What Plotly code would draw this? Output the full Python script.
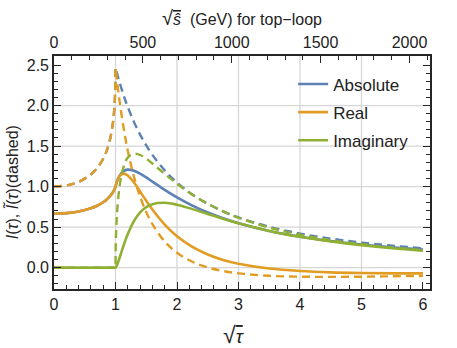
import plotly.graph_objects as go

# ---- data ----
x_sqrt_tau = [0, 0.2, 0.4, 0.6, 0.7, 0.8, 0.85, 0.9, 0.95, 0.98, 0.995, 0.999, 1.0,
              1.001, 1.003, 1.01, 1.02, 1.03, 1.06, 1.1, 1.15, 1.2, 1.3, 1.4, 1.5,
              1.6, 1.8, 2.0, 2.25, 2.5, 2.75, 3.0, 3.5, 4.0, 4.5, 5.0, 5.5, 6.0]

# I(tau) (solid)
abs_I = [0.667, 0.673, 0.693, 0.733, 0.764, 0.807, 0.835, 0.872, 0.920, 0.961, 0.988, 0.997, 1.000,
         1.003, 1.009, 1.028, 1.052, 1.074, 1.125, 1.169, 1.199, 1.209, 1.196, 1.160, 1.113,
         1.062, 0.960, 0.867, 0.766, 0.681, 0.609, 0.549, 0.453, 0.382, 0.328, 0.285, 0.250, 0.222]
re_I = [0.667, 0.673, 0.693, 0.733, 0.764, 0.807, 0.835, 0.872, 0.920, 0.961, 0.988, 0.997, 1.000,
        1.003, 1.009, 1.028, 1.052, 1.073, 1.120, 1.152, 1.157, 1.136, 1.050, 0.939, 0.825,
        0.717, 0.531, 0.387, 0.255, 0.162, 0.095, 0.048, -0.011, -0.042, -0.059, -0.067, -0.071, -0.071]
im_I = [0, 0, 0, 0, 0, 0, 0, 0, 0, 0, 0, 0, 0,
        0.0003, 0.0014, 0.0086, 0.0234, 0.0415, 0.106, 0.200, 0.313, 0.415, 0.574, 0.681, 0.747,
        0.783, 0.800, 0.776, 0.722, 0.662, 0.602, 0.547, 0.453, 0.380, 0.322, 0.277, 0.240, 0.210]

# I~(tau) (dashed)
abs_It = [1.000, 1.014, 1.058, 1.150, 1.227, 1.344, 1.429, 1.548, 1.740, 1.956, 2.185, 2.334, 2.467,
          2.464, 2.459, 2.438, 2.410, 2.382, 2.302, 2.202, 2.087, 1.982, 1.799, 1.642, 1.508,
          1.392, 1.201, 1.050, 0.903, 0.788, 0.695, 0.619, 0.504, 0.420, 0.358, 0.309, 0.270, 0.239]
re_It = [1.000, 1.014, 1.058, 1.150, 1.227, 1.344, 1.429, 1.548, 1.740, 1.956, 2.185, 2.334, 2.467,
         2.460, 2.447, 2.399, 2.333, 2.269, 2.090, 1.877, 1.644, 1.444, 1.121, 0.875, 0.685,
         0.536, 0.322, 0.183, 0.072, 0.002, -0.042, -0.071, -0.101, -0.112, -0.114, -0.112, -0.107, -0.102]
im_It = [0, 0, 0, 0, 0, 0, 0, 0, 0, 0, 0, 0, 0,
         0.140, 0.242, 0.435, 0.603, 0.724, 0.964, 1.152, 1.285, 1.358, 1.406, 1.390, 1.344,
         1.285, 1.157, 1.034, 0.900, 0.788, 0.694, 0.615, 0.494, 0.405, 0.339, 0.288, 0.248, 0.216]

series_names = ["Absolute", "Real", "Imaginary"]
colors = ["#5E81B5", "#E19C24", "#8FB032"]

m_top = 173.0                      # GeV, top-loop scale: sqrt(s) = 2 m_t sqrt(tau)
top_ticks = [0, 500, 1000, 1500, 2000]
bottom_ticks = [0, 1, 2, 3, 4, 5, 6]
y_ticks = [0, 0.5, 1.0, 1.5, 2.0, 2.5]
grid_x = [1, 2, 3, 4, 5]
grid_y = [0, 0.5, 1.0, 1.5, 2.0]

x_range = [0, 6.114]
y_range = [-0.264, 2.612]

FONT = "Liberation Sans, Arial, sans-serif"
TXT = "#222222"

fig = go.Figure()

solid = [abs_I, re_I, im_I]
dashed = [abs_It, re_It, im_It]

for name, col, ys in zip(series_names, colors, solid):
    fig.add_trace(go.Scatter(x=x_sqrt_tau, y=ys, mode="lines", name=name,
                             legendgroup=name, line=dict(color=col, width=2.6, shape="spline"),
                             hoverinfo="skip"))
for name, col, ys in zip(series_names, colors, dashed):
    fig.add_trace(go.Scatter(x=x_sqrt_tau, y=ys, mode="lines", name=name + " (dashed)",
                             showlegend=False, line=dict(color=col, width=2.4, dash="8px,5px",
                                                         shape="spline"),
                             hoverinfo="skip"))

# invisible trace carrying the top (GeV) axis
fig.add_trace(go.Scatter(x=[v * 2 * m_top for v in x_sqrt_tau], y=abs_I, xaxis="x2",
                         mode="lines", line=dict(width=0, color="rgba(0,0,0,0)"),
                         showlegend=False, hoverinfo="skip"))

shapes = []
for gx in grid_x:
    shapes.append(dict(type="line", xref="x", yref="paper", x0=gx, x1=gx, y0=0, y1=1,
                       line=dict(color="#d6d6d6", width=1.3), layer="below"))
for gy in grid_y:
    shapes.append(dict(type="line", xref="paper", yref="y", x0=0, x1=1, y0=gy, y1=gy,
                       line=dict(color="#d6d6d6", width=1.3), layer="below"))

axis_common = dict(showgrid=False, zeroline=False, showline=True, linecolor="#262626",
                   linewidth=1.6, ticks="inside", tickcolor="#262626", tickwidth=1.2,
                   ticklen=7, tickfont=dict(family=FONT, size=16, color=TXT))

fig.update_layout(
    width=457, height=348,
    margin=dict(l=54, r=27, t=56, b=59),
    paper_bgcolor="white", plot_bgcolor="white",
    xaxis=dict(range=x_range, tickvals=bottom_ticks, mirror=False,
               minor=dict(dtick=0.2, ticks="inside", ticklen=4, tickcolor="#262626", tickwidth=1),
               **axis_common),
    xaxis2=dict(range=[x_range[0] * 2 * m_top, x_range[1] * 2 * m_top], overlaying="x",
                side="top", tickvals=top_ticks,
                minor=dict(dtick=100, ticks="inside", ticklen=4, tickcolor="#262626", tickwidth=1),
                **axis_common),
    yaxis=dict(range=y_range, tickvals=y_ticks, tickformat=".1f", mirror="ticks",
               minor=dict(dtick=0.1, ticks="inside", ticklen=4, tickcolor="#262626", tickwidth=1),
               **axis_common),
    shapes=shapes,
    showlegend=True,
    legend=dict(x=0.636, y=0.955, xanchor="left", yanchor="top", bgcolor="rgba(0,0,0,0)",
                font=dict(family=FONT, size=17, color=TXT), traceorder="grouped",
                tracegroupgap=3),
    annotations=[
        dict(text="<span style='font-size:20px'>√</span><span style='text-decoration:overline'><i>ŝ</i></span>  (GeV) for top\u2212loop",
             xref="paper", yref="paper", x=0.5, y=(288.7 - 18) / 233, xanchor="center",
             yanchor="middle", showarrow=False, font=dict(family=FONT, size=16, color=TXT)),
        dict(text="<span style='font-size:23px'>√</span><span style='text-decoration:overline'><i>τ</i></span>",
             xref="paper", yref="paper", x=0.48, y=(288.7 - 335) / 233, xanchor="center",
             yanchor="middle", showarrow=False, font=dict(family=FONT, size=19, color=TXT)),
        dict(text="<i>I</i>(<i>τ</i>), <i>Ĩ</i>(<i>τ</i>)(dashed)",
             xref="paper", yref="paper", x=(12 - 54) / 376, y=(288.7 - 182) / 233,
             xanchor="center", yanchor="middle", textangle=-90, showarrow=False,
             font=dict(family=FONT, size=16, color=TXT)),
    ],
)

fig.write_html("out.html", config={"displayModeBar": False},
               post_script="document.body.style.margin='0';document.body.style.padding='0';")
